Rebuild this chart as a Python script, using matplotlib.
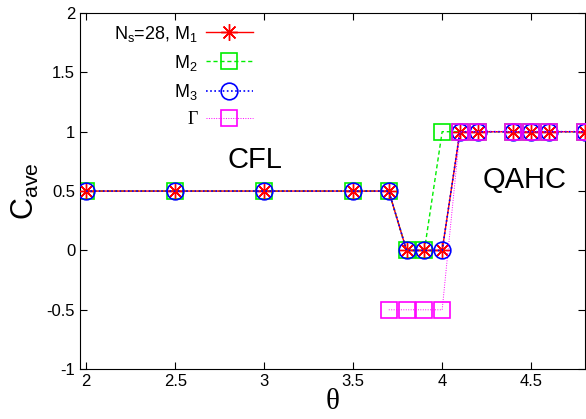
import matplotlib
matplotlib.use("Agg")
import matplotlib.pyplot as plt
import numpy as np

### fontes
plt.rcParams["font.family"] = "Liberation Sans"
plt.rcParams["mathtext.fontset"] = "custom"
plt.rcParams["mathtext.rm"] = "Liberation Sans"
plt.rcParams["mathtext.it"] = "Liberation Sans:italic"

### dados
theta = [2.0, 2.5, 3.0, 3.5, 3.7, 3.8, 3.9, 4.0, 4.1, 4.2, 4.4, 4.5, 4.6, 4.8]
c_m1 = [0.5, 0.5, 0.5, 0.5, 0.5, 0.0, 0.0, 0.0, 1.0, 1.0, 1.0, 1.0, 1.0, 1.0]
c_m2 = [0.5, 0.5, 0.5, 0.5, 0.5, 0.0, 0.0, 1.0, 1.0, 1.0, 1.0, 1.0, 1.0, 1.0]
c_m3 = [0.5, 0.5, 0.5, 0.5, 0.5, 0.0, 0.0, 0.0, 1.0, 1.0, 1.0, 1.0, 1.0, 1.0]
theta_g = [3.7, 3.8, 3.9, 4.0, 4.1, 4.2, 4.4, 4.5, 4.6, 4.8]
c_g = [-0.5, -0.5, -0.5, -0.5, 1.0, 1.0, 1.0, 1.0, 1.0, 1.0]

xticks = [2, 2.5, 3, 3.5, 4, 4.5]
yticks = [-1, -0.5, 0, 0.5, 1, 1.5, 2]

fig = plt.figure(figsize=(5.86, 4.19), dpi=100)
ax = fig.add_axes([0.1365, 0.119, 0.861, 0.85])

ms = 12
ax.plot(theta, c_m1, color="red", ls="-", lw=1.0, marker=(8, 2, 0), ms=ms,
        mew=1.0, label=r"N$_{\rm s}$=28, M$_1$", zorder=3)
ax.plot(theta, c_m2, color="#00ee00", ls=(0, (3, 2)), lw=1.0, marker="s", ms=ms,
        mfc="none", mew=1.2, label=r"M$_2$", zorder=2)
ax.plot(theta, c_m3, color="blue", ls=(0, (1, 1.5)), lw=1.2, marker="o", ms=ms,
        mfc="none", mew=1.2, label=r"M$_3$", zorder=4)
ax.plot(theta_g, c_g, color="#ff00ff", ls=(0, (1, 1.5)), lw=0.7, marker="s", ms=ms,
        mfc="none", mew=1.2, label="Γ", zorder=5)

ax.set_xlim(1.965, 4.8)
ax.set_ylim(-1, 2)
ax.set_xticks(xticks)
ax.set_xticklabels(["2", "2.5", "3", "3.5", "4", "4.5"])
ax.set_yticks(yticks)
ax.set_yticklabels(["-1", "-0.5", "0", "0.5", "1", "1.5", "2"])
ax.tick_params(direction="in", top=True, right=True, labelsize=12, length=5, width=0.8)

ax.set_xlabel("θ", family="Liberation Serif", fontsize=21, labelpad=0)
ax.set_ylabel(r"C$_{\rm ave}$", fontsize=22, labelpad=4)

ax.text(2.948, 0.76, "CFL", fontsize=21, ha="center", va="center")
ax.text(4.465, 0.59, "QAHC", fontsize=21, ha="center", va="center")

leg = ax.legend(loc="upper right", bbox_to_anchor=(0.357, 0.99), frameon=False,
                markerfirst=False, fontsize=13, handlelength=2.6, labelspacing=0.5,
                handletextpad=0.45, borderaxespad=0)
leg.get_texts()[3].set_family("Liberation Serif")

plt.savefig("out.png", dpi=100)
plt.close("all")
